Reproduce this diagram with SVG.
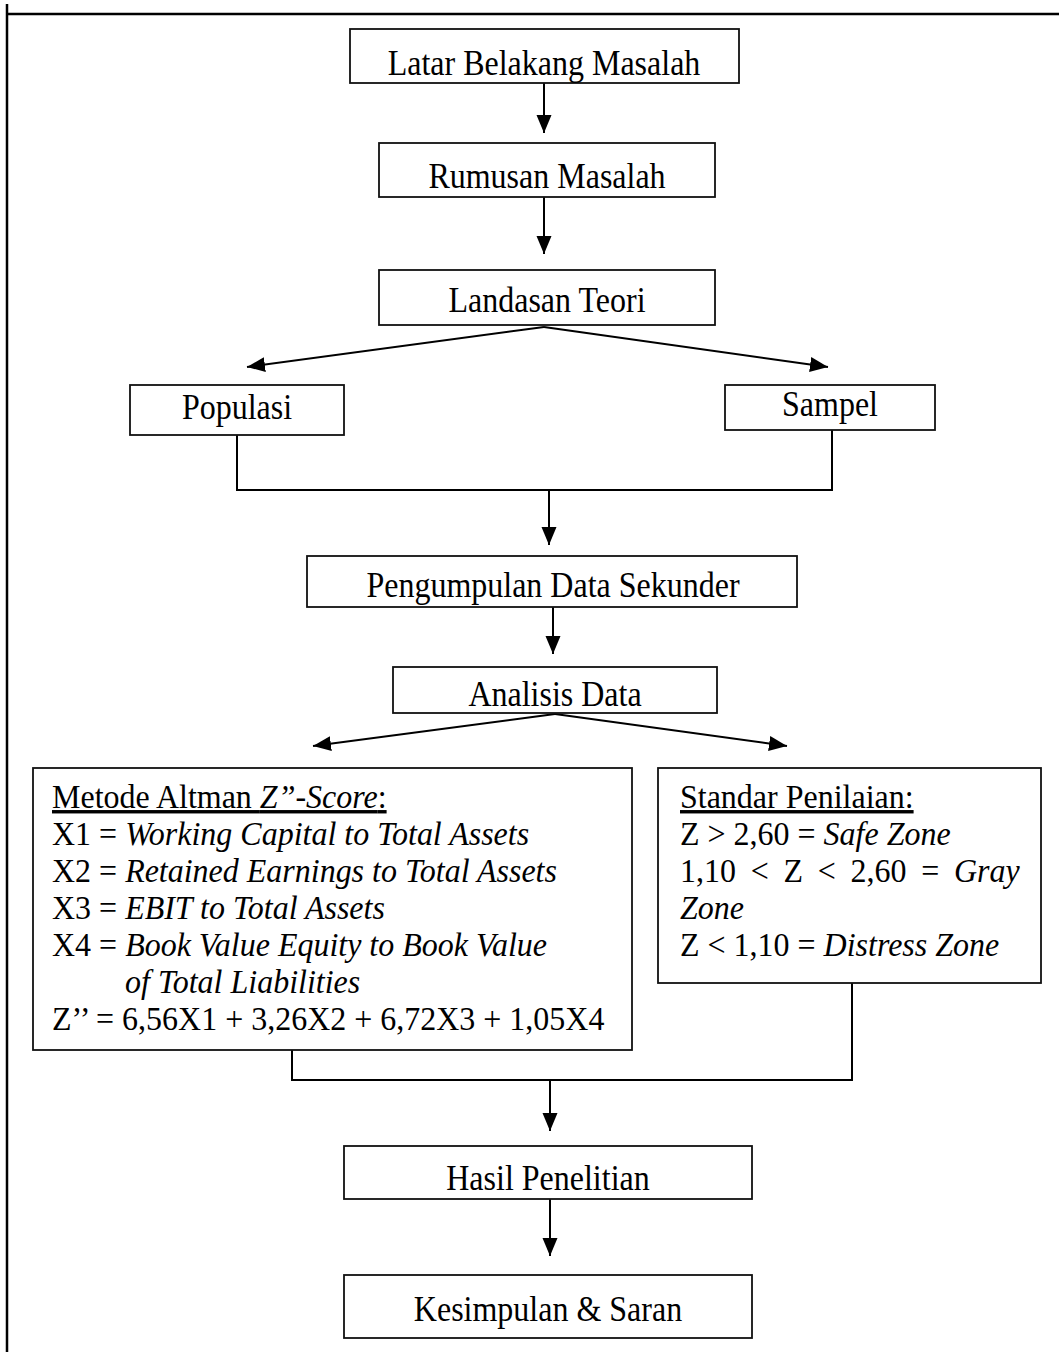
<svg xmlns="http://www.w3.org/2000/svg" width="1059" height="1352" viewBox="0 0 1059 1352">
<defs>
<marker id="ah" markerUnits="userSpaceOnUse" markerWidth="20" markerHeight="20" viewBox="0 0 20 20" refX="18" refY="10" orient="auto">
<path d="M0,2.5 L18,10 L0,17.5 Z" fill="#000"/>
</marker>
<style>
.box{fill:#fff;stroke:#111;stroke-width:1.8}
.t{font-family:"Liberation Serif","Times New Roman",serif;font-size:34px;fill:#000}
.m{font-size:36px;text-anchor:middle}
.i{font-style:italic}
.ln{fill:none;stroke:#000;stroke-width:2}
.ar{fill:none;stroke:#000;stroke-width:2;marker-end:url(#ah)}
</style>
</defs>
<rect width="1059" height="1352" fill="#fff"/>
<g id="frame"><line x1="7" y1="4" x2="7" y2="1352" stroke="#000" stroke-width="2.5"/><line x1="6" y1="14" x2="1059" y2="14" stroke="#000" stroke-width="2.5"/></g>
<g id="connectors">
<line class="ar" x1="544" y1="83" x2="544" y2="133"/>
<line class="ar" x1="544" y1="197" x2="544" y2="254"/>
<line class="ar" x1="544" y1="327" x2="247" y2="367"/>
<line class="ar" x1="544" y1="327" x2="828" y2="367"/>
<polyline class="ln" points="237,435 237,490 832,490 832,430"/>
<line class="ar" x1="549" y1="490" x2="549" y2="545"/>
<line class="ar" x1="553" y1="607" x2="553" y2="654"/>
<line class="ar" x1="555" y1="714" x2="313" y2="746"/>
<line class="ar" x1="555" y1="714" x2="787" y2="746"/>
<polyline class="ln" points="292,1050 292,1080 852,1080 852,983"/>
<line class="ar" x1="550" y1="1080" x2="550" y2="1131"/>
<line class="ar" x1="550" y1="1199" x2="550" y2="1256"/>
</g>
<g id="n1"><rect class="box" x="350" y="29" width="389" height="54"/><text class="t m" transform="translate(544,75) scale(0.889,1)">Latar Belakang Masalah</text></g>
<g id="n2"><rect class="box" x="379" y="143" width="336" height="54"/><text class="t m" transform="translate(547,188) scale(0.889,1)">Rumusan Masalah</text></g>
<g id="n3"><rect class="box" x="379" y="270" width="336" height="55"/><text class="t m" transform="translate(547,312) scale(0.889,1)">Landasan Teori</text></g>
<g id="n4"><rect class="box" x="130" y="385" width="214" height="50"/><text class="t m" transform="translate(237,419) scale(0.889,1)">Populasi</text></g>
<g id="n5"><rect class="box" x="725" y="385" width="210" height="45"/><text class="t m" transform="translate(830,416) scale(0.889,1)">Sampel</text></g>
<g id="n6"><rect class="box" x="307" y="556" width="490" height="51"/><text class="t m" transform="translate(553,597) scale(0.889,1)">Pengumpulan Data Sekunder</text></g>
<g id="n7"><rect class="box" x="393" y="667" width="324" height="46"/><text class="t m" transform="translate(555,706) scale(0.889,1)">Analisis Data</text></g>
<g id="n8"><rect class="box" x="33" y="768" width="599" height="282"/>
<g transform="translate(52,0) scale(0.941,1)">
<text class="t" x="0" y="808" text-decoration="underline">Metode Altman <tspan class="i">Z”-Score</tspan>:</text>
<text class="t" x="0" y="845">X1 = <tspan class="i">Working Capital to Total Assets</tspan></text>
<text class="t" x="0" y="882">X2 = <tspan class="i">Retained Earnings to Total Assets</tspan></text>
<text class="t" x="0" y="919">X3 = <tspan class="i">EBIT to Total Assets</tspan></text>
<text class="t" x="0" y="956">X4 = <tspan class="i">Book Value Equity to Book Value</tspan></text>
<text class="t i" x="77.6" y="993">of Total Liabilities</text>
<text class="t" x="0" y="1030">Z’’ = 6,56X1 + 3,26X2 + 6,72X3 + 1,05X4</text>
</g>
</g>
<g id="n9"><rect class="box" x="658" y="768" width="383" height="215"/>
<g transform="translate(680,0) scale(0.941,1)">
<text class="t" x="0" y="808" text-decoration="underline">Standar Penilaian:</text>
<text class="t" x="0" y="845">Z &gt; 2,60 = <tspan class="i">Safe Zone</tspan></text>
<text class="t" y="882"><tspan x="0">1,10</tspan><tspan x="75.2">&lt;</tspan><tspan x="110">Z</tspan><tspan x="146.4">&lt;</tspan><tspan x="181.2">2,60</tspan><tspan x="256.4">=</tspan><tspan x="291.2" class="i">Gray</tspan></text>
<text class="t i" x="0" y="919">Zone</text>
<text class="t" x="0" y="956">Z &lt; 1,10 = <tspan class="i">Distress Zone</tspan></text>
</g>
</g>
<g id="n10"><rect class="box" x="344" y="1146" width="408" height="53"/><text class="t m" transform="translate(548,1190) scale(0.889,1)">Hasil Penelitian</text></g>
<g id="n11"><rect class="box" x="344" y="1275" width="408" height="63"/><text class="t m" transform="translate(548,1321) scale(0.889,1)">Kesimpulan &amp; Saran</text></g>
</svg>
